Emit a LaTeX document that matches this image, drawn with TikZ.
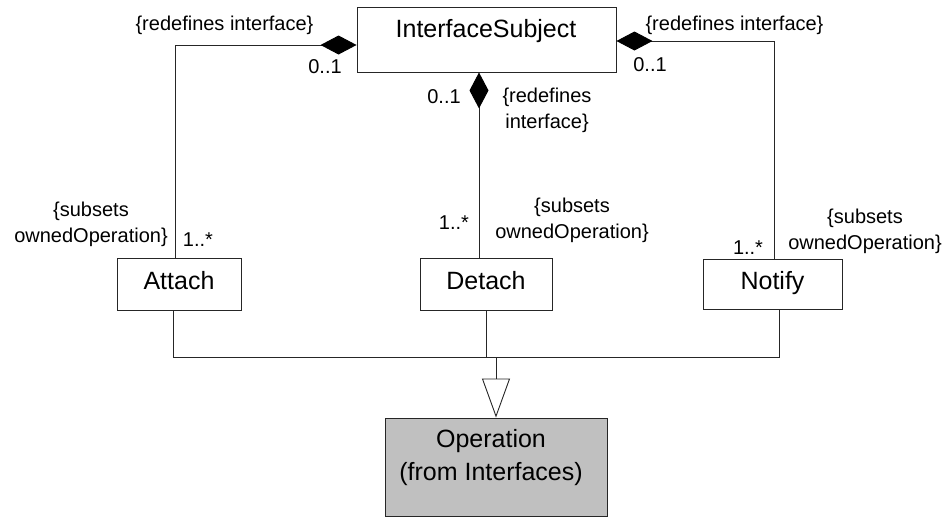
\documentclass[tikz,border=0pt]{standalone}
\usepackage{fontspec}
\setmainfont{Liberation Sans}
\usepackage{tikz}
\usetikzlibrary{arrows.meta,calc}
\definecolor{opgray}{RGB}{192,192,192}
\tikzstyle{classbox} = [draw=black!85, line width=0.9pt, inner sep=0pt, text height=18pt, text depth=8pt, font={\fontsize{25}{30}\selectfont}]
\tikzstyle{classname} = [inner sep=0pt, align=center, font={\fontsize{25}{33}\selectfont}]
\tikzstyle{ptlabel} = [anchor=center, inner sep=0pt, align=center, color=black]
\tikzstyle{mult} = [anchor=center, inner sep=0pt, color=black]
\tikzstyle{conn} = [draw=black!85, line width=0.9pt]
\tikzstyle{comp} = [conn, -{Diamond[length=36pt, width=19pt, color=black]}]
\tikzstyle{gen} = [conn, -{Triangle[open, length=39pt, width=28pt]}]
\tikzset{font={\fontsize{20}{26}\selectfont}}

\begin{document}
\begin{tikzpicture}[x=1pt, y=-1pt]
  \useasboundingbox (0,0) rectangle (952,517);

  % classes
  \node[classbox, minimum width=259pt, minimum height=65pt] (subject) at (486.5,39.5) {};
  \node[classname, anchor=base] (subjectname) at (486,37) {InterfaceSubject};
  \node[classbox, minimum width=124pt, minimum height=52pt] (attach) at (179,284) {Attach};
  \node[classbox, minimum width=132pt, minimum height=52pt] (detach) at (486,284) {Detach};
  \node[classbox, minimum width=139pt, minimum height=50pt] (notify) at (772.5,284) {Notify};
  \node[classbox, fill=opgray, minimum width=222pt, minimum height=98pt] (operation) at (496,467) {};
  \node[classname] (opname) at (491,458) {Operation\\(from Interfaces)};

  % bends
  \coordinate (lbend) at (175,45);
  \coordinate (rbend) at (774,41);
  \coordinate (cdrop) at (479,0);
  \coordinate (gleft) at (173,357);
  \coordinate (gright) at (779,357);

  % compositions
  \draw[comp] (attach.north -| lbend) -- (lbend) -- (subject.west |- lbend);
  \draw[comp] (notify.north -| rbend) -- (rbend) -- (subject.east |- rbend);
  \draw[comp] (detach.north -| cdrop) -- (subject.south -| cdrop);

  % generalization
  \draw[conn] (attach.south -| gleft) -- (gleft) -- (gright) -- (notify.south -| gright);
  \draw[conn] (detach.south) -- (detach.south |- gleft);
  \draw[gen] (operation.north |- gleft) -- (operation.north);

  % role labels
  \node[ptlabel] (lredef) at (224.5,25) {\{redefines interface\}};
  \node[ptlabel] (rredef) at (734.5,25) {\{redefines interface\}};
  \node[ptlabel] (credef) at (547,110) {\{redefines\\interface\}};
  \node[ptlabel] (asub) at (91,224.5) {\{subsets\\ownedOperation\}};
  \node[ptlabel] (dsub) at (572,220) {\{subsets\\ownedOperation\}};
  \node[ptlabel] (nsub) at (865,231.5) {\{subsets\\ownedOperation\}};

  % multiplicities
  \node[mult] (lmult) at (325,67) {0..1};
  \node[mult] (rmult) at (650,65) {0..1};
  \node[mult] (cmult) at (444,97) {0..1};
  \node[mult] (amult) at (198,240) {1..*};
  \node[mult] (dmult) at (454,223) {1..*};
  \node[mult] (nmult) at (748,248) {1..*};
\end{tikzpicture}
\end{document}
